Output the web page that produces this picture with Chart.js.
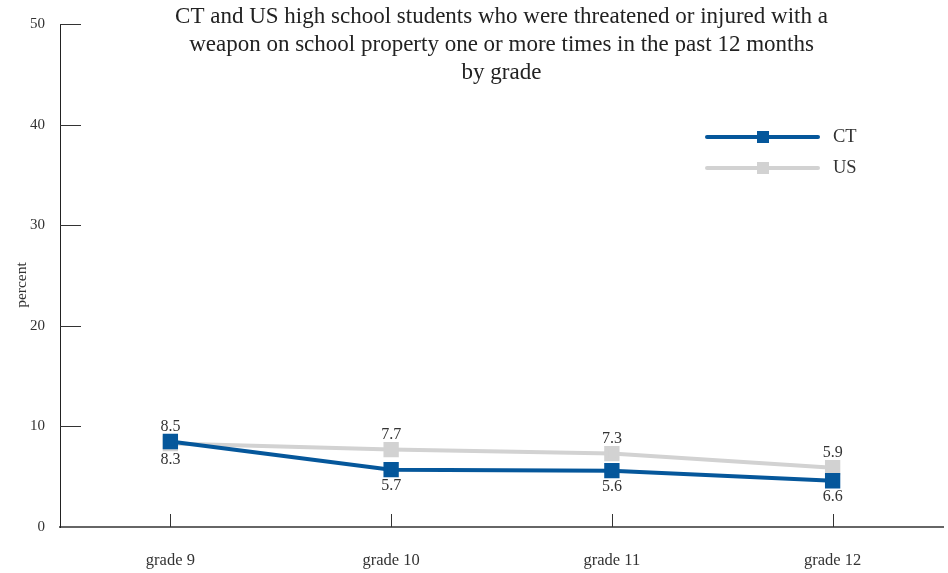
<!DOCTYPE html>
<html>
<head>
<meta charset="utf-8">
<script src="https://cdn.jsdelivr.net/npm/chart.js@4.4.0/dist/chart.umd.min.js"></script>
<style>
  html, body { margin: 0; padding: 0; background: #fff; }
  #wrap { width: 948px; height: 573px; }
</style>
</head>
<body>
<div id="wrap"><canvas id="chart" width="948" height="573"></canvas></div>
<script>
const grades = ["grade 9", "grade 10", "grade 11", "grade 12"];
const ctValues = [8.5, 5.7, 5.6, 4.6];
const usValues = [8.3, 7.7, 7.3, 5.9];
// labels as printed on the original (grade 12 CT reads 6.6 there)
const ctLabels = ["8.5", "5.7", "5.6", "6.6"];
const usLabels = ["8.3", "7.7", "7.3", "5.9"];
const yTicks = [0, 10, 20, 30, 40, 50];
const titleLines = [
  "CT and US high school students who were threatened or injured with a",
  "weapon on school property one or more times in the past 12 months",
  "by grade"
];

const CT_COLOR = "#05579b";
const US_COLOR = "#d2d2d2";
const FONT = "'Liberation Serif', 'DejaVu Serif', serif";

const extras = {
  id: "extras",
  afterDraw(chart) {
    const ctx = chart.ctx;
    const x = chart.scales.x, y = chart.scales.y;
    const area = chart.chartArea;
    ctx.save();

    // inward tick marks
    ctx.strokeStyle = "#333";
    ctx.lineWidth = 1;
    yTicks.forEach(v => {
      if (v === 0) return;
      const py = Math.round(y.getPixelForValue(v)) + 0.5;
      ctx.beginPath();
      ctx.moveTo(area.left, py);
      ctx.lineTo(area.left + 21, py);
      ctx.stroke();
    });
    grades.forEach((g, i) => {
      const px = Math.round(x.getPixelForValue(i)) + 0.5;
      ctx.beginPath();
      ctx.moveTo(px, area.bottom);
      ctx.lineTo(px, area.bottom - 13);
      ctx.stroke();
    });

    // value labels
    ctx.fillStyle = "#333";
    ctx.font = "16px " + FONT;
    ctx.textAlign = "center";
    ctx.textBaseline = "middle";
    grades.forEach((g, i) => {
      const px = x.getPixelForValue(i);
      const ctAbove = ctValues[i] >= usValues[i];
      const ctY = y.getPixelForValue(ctValues[i]);
      const usY = y.getPixelForValue(usValues[i]);
      ctx.fillText(ctLabels[i], px, ctAbove ? ctY - 15 : ctY + 16);
      ctx.fillText(usLabels[i], px, ctAbove ? usY + 16 : usY - 15);
    });

    // title
    ctx.font = "23px " + FONT;
    ctx.fillStyle = "#222";
    const cx = (area.left + area.right) / 2;
    titleLines.forEach((t, i) => ctx.fillText(t, cx, 17 + i * 28));

    // y axis title
    ctx.save();
    ctx.translate(22, 285);
    ctx.rotate(-Math.PI / 2);
    ctx.font = "15.5px " + FONT;
    ctx.fillStyle = "#333";
    ctx.fillText("percent", 0, 0);
    ctx.restore();

    // legend
    const items = [["CT", CT_COLOR, 137], ["US", US_COLOR, 168]];
    items.forEach(([name, color, ly]) => {
      ctx.strokeStyle = color;
      ctx.lineWidth = 4;
      ctx.lineCap = "round";
      ctx.beginPath();
      ctx.moveTo(707, ly);
      ctx.lineTo(818, ly);
      ctx.stroke();
      ctx.fillStyle = color;
      ctx.fillRect(757, ly - 6, 12, 12);
      ctx.fillStyle = "#333";
      ctx.font = "18.5px " + FONT;
      ctx.textAlign = "left";
      ctx.fillText(name, 833, ly);
    });
    ctx.restore();
  }
};

new Chart(document.getElementById("chart"), {
  type: "line",
  data: {
    labels: grades,
    datasets: [
      {
        label: "CT",
        data: ctValues,
        borderColor: CT_COLOR,
        backgroundColor: CT_COLOR,
        borderWidth: 4,
        pointStyle: "rect",
        pointRadius: 8,
        tension: 0
      },
      {
        label: "US",
        data: usValues,
        borderColor: US_COLOR,
        backgroundColor: US_COLOR,
        borderWidth: 4,
        pointStyle: "rect",
        pointRadius: 8,
        tension: 0
      }
    ]
  },
  options: {
    responsive: false,
    animation: false,
    layout: { autoPadding: false, padding: { top: 24, right: 5, left: 0, bottom: 0 } },
    plugins: {
      legend: { display: false },
      title: { display: false },
      tooltip: { enabled: false }
    },
    scales: {
      x: {
        offset: true,
        grid: { display: false, drawTicks: false },
        border: { display: true, color: "#666", width: 2 },
        ticks: {
          color: "#333",
          font: { family: FONT, size: 16.5 },
          padding: 24,
          maxRotation: 0
        },
        afterFit(scale) {
          scale.height = 46;
          scale.paddingLeft = 0;
          scale.paddingRight = 0;
        }
      },
      y: {
        min: 0,
        max: 50,
        grid: { display: false, drawTicks: false },
        border: { display: true, color: "#222", width: 1 },
        ticks: {
          stepSize: 10,
          color: "#333",
          font: { family: FONT, size: 15 },
          padding: 15
        },
        afterFit(scale) {
          scale.width = 60;
          scale.paddingTop = 0;
          scale.paddingBottom = 0;
        }
      }
    }
  },
  plugins: [extras]
});
</script>
</body>
</html>
